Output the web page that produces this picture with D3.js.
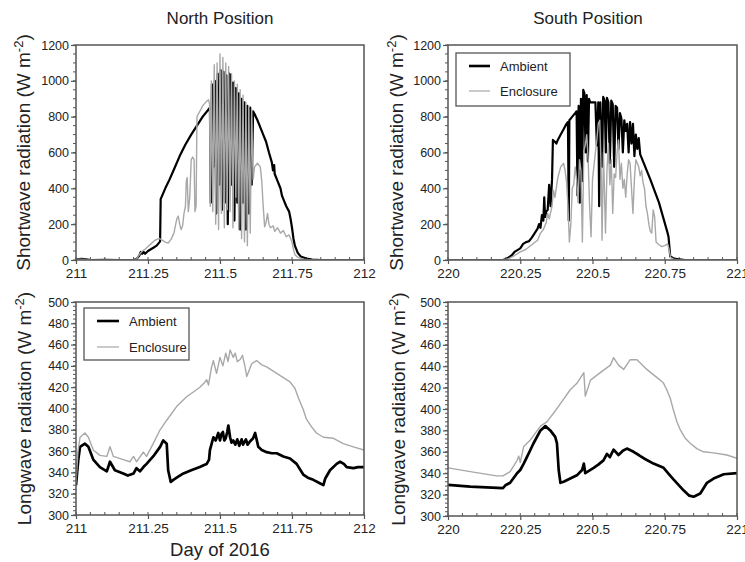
<!DOCTYPE html>
<html><head><meta charset="utf-8">
<script src="https://cdn.jsdelivr.net/npm/d3@7"></script>
<style>html,body{margin:0;padding:0;background:#fff}svg{display:block}text{font-family:"Liberation Sans",Arial,Helvetica,sans-serif}</style>
</head><body>
<script>
// ---------- DATA ----------
const titles = ["North Position", "South Position"];
const seriesNames = ["Ambient", "Enclosure"];
const xTicksNorth = [211, 211.25, 211.5, 211.75, 212];
const xTicksSouth = [220, 220.25, 220.5, 220.75, 221];
const yTicksSW = [0, 200, 400, 600, 800, 1000, 1200];
const yTicksLW = [300, 320, 340, 360, 380, 400, 420, 440, 460, 480, 500];

// North shortwave, ambient [day, W m-2]
const northSwAmbient = [[211,0],[211.01,5],[211.02,6],[211.035,3],[211.05,0],[211.1,1],[211.15,0],[211.2,0],[211.21,5],[211.22,25],[211.225,45],[211.23,35],[211.235,45],[211.24,35],[211.25,50],[211.26,60],[211.27,70],[211.28,80],[211.29,100],[211.292,105],[211.294,340],[211.31,400],[211.325,450],[211.34,505],[211.36,580],[211.38,645],[211.40,700],[211.42,750],[211.44,800],[211.46,840],[211.465,850],
[211.468,320],[211.472,980],[211.477,520],[211.482,1000],[211.487,260],[211.492,1040],[211.497,420],[211.502,1060],[211.507,280],[211.512,1050],[211.517,320],[211.522,1030],[211.527,200],[211.532,1040],[211.536,1030],[211.54,420],[211.545,990],[211.55,220],[211.555,960],[211.56,320],[211.565,930],[211.57,170],[211.575,900],[211.58,320],[211.585,880],[211.59,170],[211.595,860],[211.60,260],[211.605,850],[211.61,420],[211.615,830],[211.62,815],
[211.63,780],[211.64,740],[211.65,700],[211.66,660],[211.67,600],[211.68,545],[211.684,500],[211.688,530],[211.69,480],[211.70,440],[211.705,420],[211.71,400],[211.715,360],[211.72,340],[211.73,300],[211.74,270],[211.745,230],[211.75,180],[211.755,120],[211.76,80],[211.77,40],[211.78,20],[211.8,8],[211.82,2],[211.85,0],[212,0]];
// North shortwave, enclosure
const northSwEnclosure = [[211,0],[211.01,4],[211.03,3],[211.05,0],[211.2,0],[211.21,5],[211.22,30],[211.23,50],[211.24,60],[211.25,75],[211.26,90],[211.27,105],[211.28,115],[211.29,120],[211.30,110],[211.31,100],[211.32,95],[211.33,115],[211.34,150],[211.35,230],[211.355,245],[211.36,200],[211.365,170],[211.37,190],[211.375,260],[211.38,300],[211.383,440],[211.386,460],[211.39,270],[211.395,350],[211.40,560],[211.405,575],[211.41,560],[211.413,270],[211.417,300],[211.42,800],[211.43,830],[211.44,860],[211.45,880],[211.46,895],[211.464,870],
[211.466,300],[211.47,1000],[211.475,270],[211.48,1090],[211.485,200],[211.49,1100],[211.495,170],[211.50,1150],[211.505,260],[211.51,1130],[211.515,180],[211.52,1100],[211.525,280],[211.53,1080],[211.535,270],[211.54,1040],[211.545,180],[211.55,1000],[211.555,350],[211.56,980],[211.565,170],[211.57,950],[211.575,120],[211.58,920],[211.585,100],[211.59,880],[211.595,80],[211.60,860],[211.605,150],[211.61,840],[211.615,450],
[211.62,520],[211.63,540],[211.64,520],[211.645,440],[211.65,300],[211.655,185],[211.66,210],[211.665,260],[211.67,200],[211.675,180],[211.685,190],[211.69,160],[211.70,180],[211.71,150],[211.72,165],[211.73,130],[211.74,140],[211.75,100],[211.755,60],[211.76,30],[211.77,15],[211.79,5],[211.82,0],[212,0]];

// South shortwave, ambient
const southSwAmbient = [[220,0],[220.19,0],[220.2,5],[220.21,15],[220.22,25],[220.23,45],[220.24,55],[220.25,65],[220.26,90],[220.27,100],[220.28,105],[220.29,125],[220.30,150],[220.31,175],[220.315,200],[220.32,180],[220.325,250],[220.33,220],[220.333,350],[220.336,240],[220.34,270],[220.345,280],[220.35,420],[220.355,300],[220.36,450],[220.363,670],[220.37,660],[220.375,650],[220.38,670],[220.39,700],[220.40,730],[220.41,760],[220.415,770],[220.418,220],[220.42,780],[220.43,800],[220.44,820],[220.445,830],[220.448,360],[220.452,860],[220.456,320],[220.46,900],[220.464,440],[220.468,950],[220.472,930],[220.476,600],[220.48,920],[220.484,550],[220.488,900],[220.492,880],[220.50,880],[220.51,880],[220.515,640],[220.52,880],[220.523,300],[220.527,880],[220.533,520],[220.537,910],[220.542,890],[220.546,600],[220.55,905],[220.555,880],[220.56,540],[220.565,890],[220.57,870],[220.575,520],[220.58,860],[220.585,850],[220.59,620],[220.595,820],[220.60,790],[220.605,600],[220.61,780],[220.615,720],[220.62,760],[220.625,600],[220.63,770],[220.635,650],[220.64,760],[220.645,580],[220.65,700],[220.655,620],[220.66,680],[220.665,590],[220.67,570],[220.70,450],[220.73,320],[220.76,150],[220.763,130],[220.769,20],[220.78,10],[220.80,3],[220.82,0],[221,0]];
// South shortwave, enclosure
const southSwEnclosure = [[220,0],[220.19,0],[220.21,8],[220.23,25],[220.25,45],[220.27,60],[220.29,85],[220.31,110],[220.32,150],[220.33,170],[220.34,210],[220.345,260],[220.35,230],[220.36,300],[220.365,390],[220.37,350],[220.38,460],[220.39,520],[220.40,540],[220.405,500],[220.41,440],[220.415,300],[220.42,100],[220.425,200],[220.43,400],[220.435,420],[220.44,520],[220.445,450],[220.45,320],[220.455,560],[220.46,500],[220.465,100],[220.47,610],[220.475,640],[220.48,700],[220.485,560],[220.49,300],[220.495,130],[220.50,450],[220.51,600],[220.515,670],[220.52,760],[220.525,780],[220.53,500],[220.533,110],[220.538,600],[220.545,150],[220.55,500],[220.555,650],[220.56,420],[220.565,560],[220.57,260],[220.575,480],[220.58,460],[220.585,600],[220.59,670],[220.595,450],[220.60,540],[220.605,400],[220.61,450],[220.615,350],[220.62,480],[220.625,560],[220.63,540],[220.64,260],[220.645,450],[220.65,560],[220.655,540],[220.66,520],[220.665,470],[220.67,500],[220.675,430],[220.68,400],[220.685,300],[220.69,260],[220.695,200],[220.70,160],[220.705,150],[220.71,280],[220.715,240],[220.72,100],[220.73,85],[220.74,75],[220.75,80],[220.76,90],[220.765,60],[220.77,15],[220.78,5],[220.80,0],[221,0]];

// North longwave
const northLwAmbient = [[211,328],[211.008,352],[211.014,364],[211.031,367],[211.043,364],[211.06,352],[211.083,345],[211.107,341],[211.118,350],[211.135,342],[211.164,339],[211.18,337],[211.2,339],[211.21,344],[211.222,341],[211.234,345],[211.245,348],[211.268,355],[211.292,364],[211.303,370],[211.315,367],[211.32,342],[211.329,331],[211.338,333],[211.355,336],[211.373,339],[211.4,342],[211.43,345],[211.445,347],[211.454,348],[211.462,352],[211.465,361],[211.472,368],[211.477,373],[211.485,370],[211.494,377],[211.5,370],[211.505,376],[211.51,378],[211.515,370],[211.52,372],[211.525,378],[211.529,384],[211.535,373],[211.54,368],[211.546,370],[211.553,366],[211.56,371],[211.567,365],[211.575,371],[211.58,366],[211.59,371],[211.596,366],[211.604,369],[211.615,372],[211.622,377],[211.633,364],[211.645,361],[211.662,359],[211.68,358],[211.697,358],[211.72,355],[211.743,353],[211.766,348],[211.789,338],[211.805,335],[211.824,333],[211.845,330],[211.859,328],[211.865,334],[211.882,342],[211.905,348],[211.917,350],[211.93,348],[211.94,345],[211.963,344],[211.98,345],[212,345]];
const northLwEnclosure = [[211,330],[211.007,360],[211.014,373],[211.031,377],[211.043,373],[211.06,361],[211.083,356],[211.107,355],[211.118,364],[211.13,355],[211.164,352],[211.187,350],[211.2,355],[211.21,350],[211.234,359],[211.245,355],[211.268,367],[211.292,380],[211.315,389],[211.35,402],[211.384,411],[211.41,416],[211.43,420],[211.445,424],[211.454,427],[211.46,422],[211.47,438],[211.477,445],[211.488,433],[211.5,448],[211.51,440],[211.52,452],[211.528,444],[211.535,455],[211.546,448],[211.553,452],[211.56,444],[211.57,446],[211.578,450],[211.587,439],[211.593,430],[211.61,442],[211.627,445],[211.645,441],[211.662,439],[211.697,433],[211.72,429],[211.743,425],[211.76,419],[211.772,410],[211.789,399],[211.8,390],[211.82,382],[211.835,377],[211.859,373],[211.894,372],[211.928,367],[211.963,364],[212,361]];

// South longwave
const southLwAmbient = [[220,329],[220.077,327.5],[220.19,326],[220.2,329],[220.215,331],[220.239,340],[220.25,343],[220.262,349],[220.273,355],[220.296,368],[220.32,380],[220.337,384],[220.354,380],[220.371,374],[220.377,368],[220.383,343],[220.389,331],[220.4,332],[220.423,335],[220.446,338],[220.464,343],[220.47,349],[220.475,340],[220.504,345],[220.52,348],[220.538,352],[220.55,358],[220.56,355],[220.573,362],[220.59,357],[220.605,361],[220.619,363],[220.642,360],[220.66,357],[220.677,354],[220.711,349],[220.746,345],[220.765,339],[220.781,334],[220.815,324],[220.835,319],[220.85,318],[220.873,321],[220.896,331],[220.919,335],[220.954,339],[221,340]];
const southLwEnclosure = [[220,345],[220.077,341.5],[220.168,337.5],[220.19,337.5],[220.215,341.5],[220.239,352],[220.245,356],[220.25,350],[220.262,365],[220.285,371],[220.32,384],[220.342,388],[220.365,396],[220.389,405],[220.423,418],[220.446,424],[220.47,434],[220.475,412],[220.493,427],[220.527,434],[220.562,441],[220.573,448],[220.59,441],[220.608,437],[220.63,446],[220.654,446],[220.688,437],[220.734,427],[220.746,424],[220.757,418],[220.769,410],[220.78,399],[220.792,388],[220.803,381],[220.82,373],[220.838,368],[220.861,363],[220.884,360],[220.919,359],[220.965,357],[221,354]];

// ---------- DRAWING ----------
const W = 745, H = 562;
const svg = d3.select("body").append("svg").attr("width", W).attr("height", H);
const FONT = '"Liberation Sans",Arial,Helvetica,sans-serif';
const axisColor = "#555";

function panel(cfg) {
  const x = d3.scaleLinear().domain([cfg.xTicks[0], cfg.xTicks[cfg.xTicks.length - 1]]).range([cfg.left, cfg.right]);
  const y = d3.scaleLinear().domain([cfg.yTicks[0], cfg.yTicks[cfg.yTicks.length - 1]]).range([cfg.bottom, cfg.top]);
  const g = svg.append("g");
  const id = "clip" + cfg.id;
  svg.append("clipPath").attr("id", id).append("rect")
    .attr("x", cfg.left).attr("y", cfg.top).attr("width", cfg.right - cfg.left).attr("height", cfg.bottom - cfg.top);

  const xd = x.domain(), yd = y.domain();
  const xMinor = d3.range(xd[0], xd[1] + 1e-6, 0.05);
  g.selectAll(".xm").data(xMinor).join("line")
    .attr("x1", d => x(d)).attr("x2", d => x(d))
    .attr("y1", cfg.bottom).attr("y2", cfg.bottom - 3)
    .attr("stroke", axisColor).attr("stroke-width", 1);
  const yMinor = d3.range(yd[0], yd[1] + 1e-6, cfg.yMinorStep);
  g.selectAll(".ym").data(yMinor).join("line")
    .attr("x1", cfg.left).attr("x2", cfg.left - 3)
    .attr("y1", d => y(d)).attr("y2", d => y(d))
    .attr("stroke", axisColor).attr("stroke-width", 1);

  const xAxis = d3.axisBottom(x).tickValues(cfg.xTicks).tickSize(4).tickPadding(4).tickFormat(d => String(d));
  const gx = g.append("g").attr("transform", `translate(0,${cfg.bottom})`).call(xAxis);
  const yAxis = d3.axisLeft(y).tickValues(cfg.yTicks).tickSize(5).tickPadding(2).tickFormat(d => String(d));
  const gy = g.append("g").attr("transform", `translate(${cfg.left},0)`).call(yAxis);
  [gx, gy].forEach(a => {
    a.select(".domain").remove();
    a.selectAll("line").attr("stroke", axisColor).attr("stroke-width", 1.2);
    a.selectAll("text").attr("font-family", FONT).attr("font-size", 13.5).attr("fill", "#222");
  });
  gy.selectAll("text").attr("font-size", 12.5);

  const line = d3.line().x(d => x(d[0])).y(d => y(d[1]));
  const lg = g.append("g").attr("clip-path", `url(#${id})`);
  lg.append("path").datum(cfg.amb).attr("d", line).attr("fill", "none")
    .attr("stroke", "#000").attr("stroke-width", cfg.ambWidth).attr("stroke-linejoin", "round");
  lg.append("path").datum(cfg.enc).attr("d", line).attr("fill", "none")
    .attr("stroke", "#a8a8a8").attr("stroke-width", 1.4).attr("stroke-linejoin", "round");

  g.append("rect").attr("x", cfg.left).attr("y", cfg.top)
    .attr("width", cfg.right - cfg.left).attr("height", cfg.bottom - cfg.top)
    .attr("fill", "none").attr("stroke", axisColor).attr("stroke-width", 1.5);

  const cy = (cfg.top + cfg.bottom) / 2;
  const t = svg.append("text")
    .attr("transform", `translate(${cfg.ylabX},${cy}) rotate(-90)`)
    .attr("text-anchor", "middle").attr("font-family", FONT).attr("font-size", 19).attr("fill", "#222");
  t.append("tspan").text(cfg.ylabel + " (W m");
  t.append("tspan").attr("dy", -7).attr("font-size", 13).text("-2");
  t.append("tspan").attr("dy", 7).text(")");

  if (cfg.legend) {
    const L = cfg.legend;
    g.append("rect").attr("x", L.x).attr("y", L.y).attr("width", L.w).attr("height", L.h)
      .attr("fill", "#fff").attr("stroke", axisColor).attr("stroke-width", 1.3);
    const items = [{name: seriesNames[0], color: "#000", sw: 2.6}, {name: seriesNames[1], color: "#c4c4c4", sw: 1.8}];
    items.forEach((it, i) => {
      const yy = L.y + L.row0 + i * L.rowGap;
      g.append("line").attr("x1", L.x + L.lx0).attr("x2", L.x + L.lx1).attr("y1", yy).attr("y2", yy)
        .attr("stroke", it.color).attr("stroke-width", it.sw);
      g.append("text").attr("x", L.x + L.tx).attr("y", yy).attr("dy", "0.35em")
        .attr("font-family", FONT).attr("font-size", 13).attr("fill", "#222").text(it.name);
    });
  }
  return {x, y};
}

panel({id: "tl", left: 76, right: 364, top: 45, bottom: 260, xTicks: xTicksNorth, yTicks: yTicksSW, yMinorStep: 50,
  amb: northSwAmbient, enc: northSwEnclosure, ambWidth: 2.2, ylabel: "Shortwave radiation", ylabX: 30});
panel({id: "tr", left: 448, right: 737, top: 45, bottom: 260, xTicks: xTicksSouth, yTicks: yTicksSW, yMinorStep: 50,
  amb: southSwAmbient, enc: southSwEnclosure, ambWidth: 2.2, ylabel: "Shortwave radiation", ylabX: 403,
  legend: {x: 456, y: 53, w: 114, h: 53, row0: 13, rowGap: 25, lx0: 13, lx1: 34, tx: 44}});
panel({id: "bl", left: 76, right: 364, top: 302, bottom: 515, xTicks: xTicksNorth, yTicks: yTicksLW, yMinorStep: 4,
  amb: northLwAmbient, enc: northLwEnclosure, ambWidth: 2.7, ylabel: "Longwave radiation", ylabX: 31,
  legend: {x: 84, y: 308, w: 105, h: 52, row0: 13, rowGap: 26, lx0: 13, lx1: 35, tx: 45}});
panel({id: "br", left: 448, right: 737, top: 302, bottom: 516, xTicks: xTicksSouth, yTicks: yTicksLW, yMinorStep: 4,
  amb: southLwAmbient, enc: southLwEnclosure, ambWidth: 2.7, ylabel: "Longwave radiation", ylabX: 405});

svg.append("text").attr("x", 220).attr("y", 24).attr("text-anchor", "middle")
  .attr("font-family", FONT).attr("font-size", 17).attr("fill", "#222").text(titles[0]);
svg.append("text").attr("x", 588).attr("y", 24).attr("text-anchor", "middle")
  .attr("font-family", FONT).attr("font-size", 17).attr("fill", "#222").text(titles[1]);
svg.append("text").attr("x", 220).attr("y", 556).attr("text-anchor", "middle")
  .attr("font-family", FONT).attr("font-size", 18.5).attr("fill", "#222").text("Day of 2016");
</script>
</body></html>
